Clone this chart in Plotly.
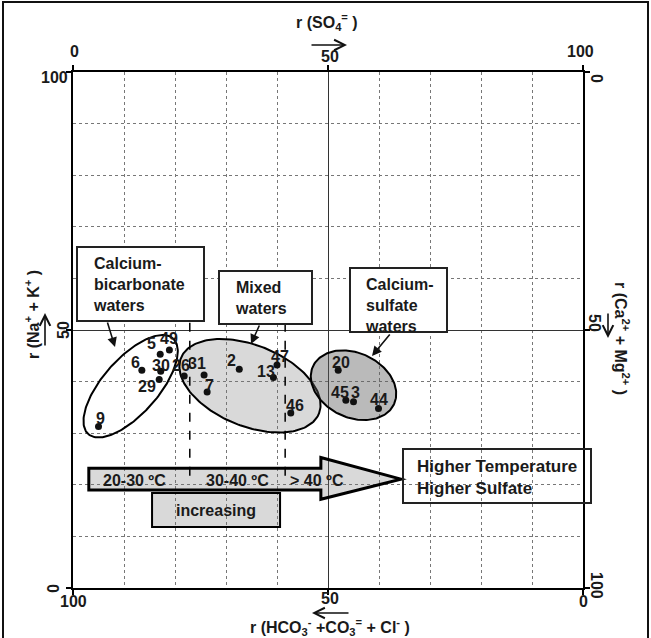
import numpy as np
import plotly.graph_objects as go

# ---------------- data ----------------
sample_ids = ["9", "5", "49", "6", "30", "29", "26", "31", "7", "2", "47", "13", "46", "20", "45", "3", "44"]
so4_pct = [5.0, 17.1, 18.9, 13.5, 17.2, 16.9, 21.8, 25.7, 26.3, 32.6, 40.0, 39.3, 42.7, 52.0, 53.5, 55.0, 59.9]
nak_pct = [31.3, 45.3, 46.1, 42.2, 42.0, 40.4, 41.1, 41.3, 38.0, 42.4, 43.2, 40.8, 33.9, 42.2, 36.4, 36.1, 34.8]

top_ticks = ["0", "50", "100"]          # r(SO4)
bottom_ticks = ["100", "50", "0"]       # r(HCO3+CO3+Cl)
left_ticks = ["0", "50", "100"]         # r(Na+K)
right_ticks = ["100", "50", "0"]        # r(Ca+Mg)

group_names = ["Calcium-<br>bicarbonate<br>waters", "Mixed<br>waters", "Calcium-<br>sulfate<br>waters"]
temp_classes = ["20-30 ºC", "30-40 ºC", "> 40 ºC"]

# label offsets (pixels, styling only)
label_dx = [2, -9, 0, -6, 0, -12, -3, -7, 2, -8, 3, -7, 4, 3, -6, 2, 1]
label_dy = [8, 11, 12, 8, 6, -7, 10, 11, 6, 9, 9, 6, 8, 8, 8, 9, 9]

W, H = 651, 638
L, R, T, B = 73, 68, 72, 50
PW, PH = W - L - R, H - T - B


def P(px, py):
    return (px - L) / PW, (H - B - py) / PH


def D(px, py):
    return (px - L) / PW * 100, (H - B - py) / PH * 100


FONT = "Liberation Sans, Arial, sans-serif"
TXT = "#1a1a1a"


def ellipse(cx, cy, a, b, ang):
    t = np.linspace(0, 2 * np.pi, 181)
    th = np.deg2rad(ang)
    x = cx + a * np.cos(t) * np.cos(th) - b * np.sin(t) * np.sin(th)
    y = cy + a * np.cos(t) * np.sin(th) + b * np.sin(t) * np.cos(th)
    return x, y


fig = go.Figure()

ells = [
    (11.3, 39.1, 12.45, 5.4, 48, "rgba(0,0,0,0)"),
    (34.7, 39.2, 14.56, 7.86, -21.6, "rgba(120,120,120,0.28)"),
    (55.0, 39.3, 8.75, 6.26, -24.4, "rgba(90,90,90,0.42)"),
]
for cx, cy, a, b, ang, fc in ells:
    ex, ey = ellipse(cx, cy, a, b, ang)
    fig.add_trace(go.Scatter(x=ex, y=ey, mode="lines", fill="toself", fillcolor=fc,
                             line=dict(color="black", width=2), hoverinfo="skip", showlegend=False))

fig.add_trace(go.Scatter(x=so4_pct, y=nak_pct, mode="markers",
                         marker=dict(color="#111", size=7), showlegend=False))

annotations = []
for sid, xv, yv, dx, dy in zip(sample_ids, so4_pct, nak_pct, label_dx, label_dy):
    annotations.append(dict(x=xv, y=yv, xref="x", yref="y", text="<b>%s</b>" % sid, showarrow=False,
                            xshift=dx, yshift=dy, font=dict(family=FONT, size=16, color=TXT)))

shapes = []

# arrow (temperature / sulfate trend)
ax0, ah, tip = 3.1, 48.6, 64.3
yb0, yb1, yh0, yh1, yt = 19.0, 23.2, 17.2, 25.3, 21.1
shapes.append(dict(type="path", xref="x", yref="y",
                   path=f"M {ax0},{yb0} L {ah},{yb0} L {ah},{yh0} L {tip},{yt} L {ah},{yh1} L {ah},{yb1} L {ax0},{yb1} Z",
                   fillcolor="rgba(120,120,120,0.28)", line=dict(color="black", width=3)))

# dashed separators
for xv in [22.9, 41.6]:
    shapes.append(dict(type="line", xref="x", yref="y", x0=xv, x1=xv, y0=51.4, y1=20.5,
                       line=dict(color="black", width=1.5, dash="dash")))

# increasing box
shapes.append(dict(type="rect", xref="x", yref="y", x0=15.5, x1=40.6, y0=11.8, y1=18.4,
                   fillcolor="rgba(120,120,120,0.28)", line=dict(color="black", width=2)))
annotations.append(dict(x=28.0, y=15.1, xref="x", yref="y", text="<b>increasing</b>", showarrow=False,
                        font=dict(family=FONT, size=16, color=TXT)))

for txt, xv in zip(temp_classes, [12.0, 32.3, 47.8]):
    annotations.append(dict(x=xv, y=20.9, xref="x", yref="y", text="<b>%s</b>" % txt, showarrow=False,
                            font=dict(family=FONT, size=16, color=TXT)))

# Higher temperature box
hx0, hy0 = P(403, 503)
hx1, hy1 = P(591, 449)
shapes.append(dict(type="rect", xref="paper", yref="paper", x0=hx0, x1=hx1, y0=hy0, y1=hy1,
                   line=dict(color="#222", width=2)))
tx, ty = P(415, 477)
annotations.append(dict(x=tx, y=ty, xref="paper", yref="paper",
                        text="<b>Higher Temperature</b><br><b>Higher Sulfate</b>", showarrow=False,
                        align="left", xanchor="left", yanchor="middle",
                        font=dict(family=FONT, size=17, color=TXT)))

# group label boxes
boxes = [
    ((77, 247, 204, 321), (91, 284), ((107, 321), (115, 347))),
    ((219, 271, 312, 324), (233, 298), ((260, 324), (251, 344))),
    ((350, 268, 447, 332), (363, 305), ((391, 333), (372, 356))),
]
for name, (rect, tpos, arr) in zip(group_names, boxes):
    x0, y1 = D(rect[0], rect[1])
    x1, y0 = D(rect[2], rect[3])
    shapes.append(dict(type="rect", xref="x", yref="y", x0=x0, x1=x1, y0=y0, y1=y1,
                       fillcolor="white", line=dict(color="#222", width=2)))
    tx, ty = D(*tpos)
    annotations.append(dict(x=tx, y=ty, xref="x", yref="y", text="<b>%s</b>" % name.replace("<br>", "</b><br><b>"),
                            showarrow=False, align="left", xanchor="left", yanchor="middle",
                            font=dict(family=FONT, size=16, color=TXT)))
    (tlx, tly), (hdx, hdy) = D(*arr[0]), D(*arr[1])
    annotations.append(dict(x=hdx, y=hdy, xref="x", yref="y", ax=tlx, ay=tly, axref="x", ayref="y",
                            text="", showarrow=True, arrowhead=2, arrowsize=1.2, arrowwidth=1.6,
                            arrowcolor="#111"))


# axis tick labels / titles (outside)
def lab(text, px, py, size=16, angle=0):
    x, y = P(px, py)
    annotations.append(dict(x=x, y=y, xref="paper", yref="paper", text="<b>%s</b>" % text, showarrow=False,
                            textangle=angle, xanchor="center", yanchor="middle",
                            font=dict(family=FONT, size=size, color=TXT)))


def arrow(tail, head):
    hx, hy = P(*head)
    annotations.append(dict(x=hx, y=hy, xref="paper", yref="paper", ax=tail[0] - head[0], ay=tail[1] - head[1],
                            text="", showarrow=True, arrowhead=5, arrowsize=1.3, arrowwidth=1.6,
                            arrowcolor="#111"))


for t, (px, py) in zip(top_ticks, [(74, 52), (330, 57), (580, 52)]):
    lab(t, px, py)
for t, (px, py) in zip(bottom_ticks, [(73, 601), (330, 598), (583, 601)]):
    lab(t, px, py)
lab(left_ticks[2], 54, 77)
lab(left_ticks[0], 53, 588, angle=90)
lab(left_ticks[1], 63, 330, angle=-90)
lab(right_ticks[2], 597, 78, angle=90)
lab(right_ticks[0], 597, 585, angle=90)
lab(right_ticks[1], 595, 323, angle=90)

lab("r (SO<sub>4</sub><sup>=</sup> )", 327, 22)
arrow((310, 45), (347, 45))
lab("r (HCO<sub>3</sub><sup>-</sup> +CO<sub>3</sub><sup>=</sup> + Cl<sup>-</sup> )", 330, 627)
arrow((350, 613), (312, 613))
lab("r (Na<sup>+</sup> + K<sup>+</sup> )", 32, 315, angle=-90)
arrow((45, 347), (45, 313))
lab("r (Ca<sup>2+</sup> + Mg<sup>2+</sup> )", 622, 338, angle=90)
arrow((608, 312), (608, 338))

# outer frame
fx0, fy0 = P(3, 640)
fx1, fy1 = P(648, 2)
shapes.append(dict(type="rect", xref="paper", yref="paper", x0=fx0, x1=fx1, y0=fy0, y1=fy1,
                   line=dict(color="#111", width=2)))

minor_vals = [10, 20, 30, 40, 60, 70, 80, 90]
axis_common = dict(range=[0, 100], tickvals=[0, 50, 100], showticklabels=False, ticks="outside", ticklen=5,
                   tickwidth=1.5, tickcolor="black", showline=True, linewidth=2, linecolor="black",
                   mirror="ticks", showgrid=True, gridcolor="#333", gridwidth=1, zeroline=False,
                   minor=dict(tickvals=minor_vals, showgrid=True, gridcolor="#777", griddash="dot",
                              gridwidth=1, ticks=""), fixedrange=True)

fig.update_layout(
    width=W, height=H, margin=dict(l=L, r=R, t=T, b=B),
    paper_bgcolor="white", plot_bgcolor="white", showlegend=False,
    xaxis=axis_common, yaxis=axis_common,
    shapes=shapes, annotations=annotations,
    font=dict(family=FONT, color=TXT),
)

fig.write_html("out.html", config={"displayModeBar": False, "staticPlot": True})

# remove default page margin so the figure sits at the window origin
with open("out.html", "r", encoding="utf-8") as f:
    html = f.read()
html = html.replace("<head>", "<head><style>html,body{margin:0;padding:0;overflow:hidden;}</style>", 1)
with open("out.html", "w", encoding="utf-8") as f:
    f.write(html)
